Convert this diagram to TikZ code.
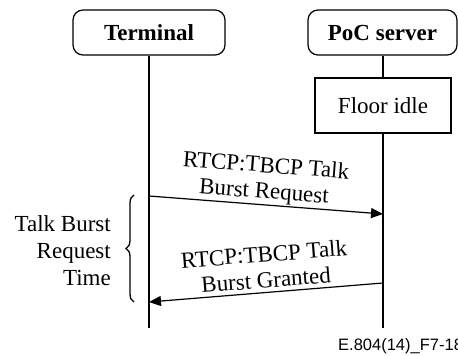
\documentclass[tikz,border=0pt]{standalone}
\usepackage{fontspec}
\setmainfont{Liberation Serif}
\newfontfamily\labelfont{Liberation Sans}
\usetikzlibrary{arrows.meta,decorations.pathreplacing}

\begin{document}
\begin{tikzpicture}[x=1pt,y=-1pt,
  every node/.style={font=\fontsize{23}{27}\selectfont},
  entity/.style={draw,line width=1.2pt,rounded corners=10pt,minimum height=45pt,
    inner sep=0pt,font=\fontsize{23}{27}\selectfont\bfseries},
  statebox/.style={draw,line width=1.2pt,minimum height=55pt,minimum width=136pt,inner sep=0pt},
  lifeline/.style={line width=1.2pt},
  msg/.style={line width=1.2pt,-{Triangle[length=12pt,width=10pt]}},
  msgtext/.style={align=center,inner sep=0pt,font=\fontsize{23}{26}\selectfont}
]
\useasboundingbox (0,0) rectangle (458,356);

% entities
\node[entity,minimum width=152pt] (term) at (149,32.5) {Terminal};
\node[entity,minimum width=149pt] (poc) at (382.5,32.5) {PoC server};
\node[statebox] (idle) at (383,105.5) {Floor idle};

% lifeline ends
\coordinate (termend) at (149,328);
\coordinate (pocend) at (383,328);
\draw[lifeline] (term.south) -- (termend);
\draw[lifeline] (poc.south -| idle.north) -- (idle.north);
\draw[lifeline] (idle.south) -- (pocend);

% message anchor points
\coordinate (t1) at (149,196);
\coordinate (s1) at (383,214);
\coordinate (s2) at (383,283);
\coordinate (t2) at (149,302);

\draw[msg] (t1) -- (s1);
\draw[msg] (s2) -- (t2);

\node[msgtext,rotate=-4.4] (m1) at (265,180) {RTCP:TBCP Talk\\Burst Request};
\node[msgtext,rotate=4.4] (m2) at (265,267) {RTCP:TBCP Talk\\Burst Granted};

% interval brace
\draw[line width=1.3pt,decorate,decoration={brace,amplitude=8pt}]
  (134,302) -- (134,195);
\node[align=right,inner sep=0pt,anchor=east] (tbrt) at (111,251)
  {Talk Burst\\Request\\Time};

% figure reference
\node[anchor=base west,inner sep=0pt,font=\labelfont\fontsize{16.5}{18}\selectfont]
  (ref) at (338,350) {E.804(14)\_F7-18};
\end{tikzpicture}
\end{document}
